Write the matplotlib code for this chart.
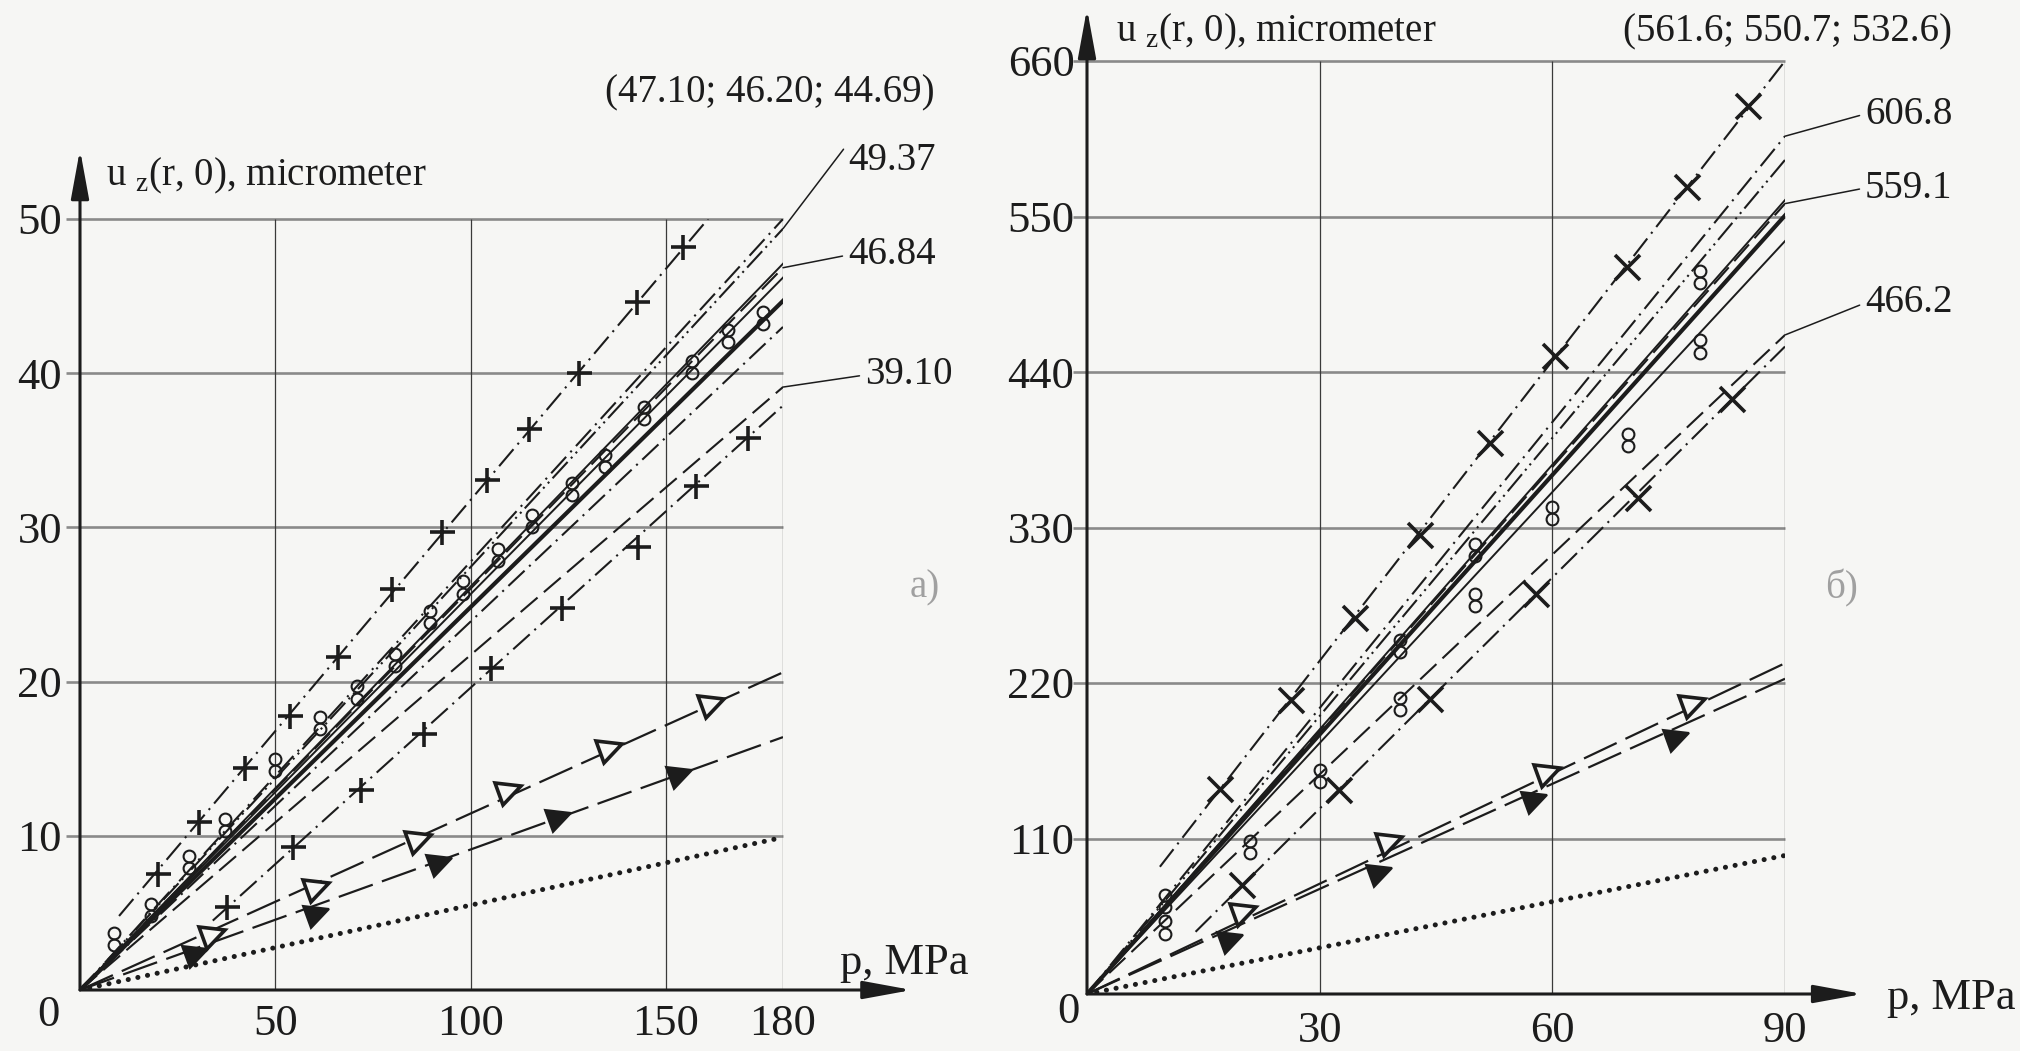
import matplotlib
matplotlib.use("Agg")
import matplotlib.pyplot as plt
from matplotlib.markers import MarkerStyle

plt.rcParams['font.family'] = 'serif'
plt.rcParams['font.serif'] = ['Liberation Serif', 'DejaVu Serif']
plt.rcParams['mathtext.fontset'] = 'custom'
plt.rcParams['mathtext.rm'] = 'Liberation Serif'
plt.rcParams['lines.scale_dashes'] = False

W, H = 2020, 1051
BG = '#f6f6f4'
INK = '#1c1c1c'

# ---------------- panel a) ----------------
a_xticks = [50, 100, 150, 180]
a_yticks = [10, 20, 30, 40, 50]
a_xmax, a_ymax = 180, 50
# straight lines from the origin, value reached at p = 180 MPa
a_line_ends = [50.0, 49.37, 47.10, 46.84, 46.20, 44.69, 43.0, 39.10]
a_line_styles = ['dashdot', 'dashdotdot', 'solid', 'dashed', 'solid', 'thick', 'dashdot', 'dashed']
# "+" series (upper and lower)
a_up_x = [19.9, 30.4, 42.3, 53.8, 66, 80, 92.8, 104.3, 115, 127.7, 142.5, 154.5]
a_up_y = [7.5, 10.9, 14.4, 17.8, 21.6, 26.0, 29.7, 33.1, 36.4, 40.0, 44.6, 48.2]
a_up_line_x = [10, 160.8]
a_up_line_y = [4.8, 50.0]
a_lo_x = [37.7, 54.6, 72, 88, 105.3, 123.4, 143, 157.6, 171]
a_lo_y = [5.4, 9.3, 13.0, 16.6, 20.9, 24.8, 28.7, 32.7, 35.8]
a_lo_line_x = [34, 180]
a_lo_line_y = [4.5, 37.9]
# paired circles (experiment)
a_circ_x = [8.7, 18.1, 27.8, 37.2, 50, 61.5, 71, 80.6, 89.5, 98, 106.9, 115.8, 126, 134.5, 144.3, 156.6, 166, 175]
a_circ_y = [3.3, 5.2, 8.3, 10.7, 14.6, 17.3, 19.3, 21.4, 24.2, 26.1, 28.2, 30.4, 32.5, 34.3, 37.4, 40.4, 42.4, 43.6]
# triangles
a_otri_x = [34.2, 61, 87, 110, 136, 162]
a_otri_y = [3.6, 6.7, 9.8, 13.0, 15.7, 18.6]
a_otri_end = 20.6
a_ftri_x = [30, 61, 92.4, 123, 154]
a_ftri_y = [2.4, 5.0, 8.3, 11.25, 14.0]
a_ftri_end = 16.4
a_dot_end = 9.9
a_ann_vals = [49.37, 46.84, 39.10]
a_ann_text = ['49.37', '46.84', '39.10']
a_top_text = '(47.10; 46.20; 44.69)'

# ---------------- panel б) ----------------
b_xticks = [30, 60, 90]
b_yticks = [110, 220, 330, 440, 550, 660]
b_xmax, b_ymax = 90, 660
b_line_ends = [606.8, 590.0, 561.6, 559.1, 550.7, 532.6, 466.2]
b_line_styles = ['dashdot', 'dashdotdot', 'solid', 'dashed', 'thick', 'solid', 'dashed']
b_up_x = [17.1, 26.3, 34.5, 43, 52, 60.3, 69.6, 77.4, 85.2]
b_up_y = [145, 208, 266, 325, 390, 451, 514, 571, 628]
b_up_line_x = [9.4, 90]
b_up_line_y = [90, 660]
b_lo_x = [20, 32.5, 44.2, 57.9, 71, 83.2]
b_lo_y = [77, 144, 209, 283, 351, 421]
b_lo_line_x = [14, 90]
b_lo_line_y = [44, 458]
b_circ_x = [10, 10, 21, 30, 40.3, 40.3, 50, 50, 60, 69.7, 79, 79]
b_circ_y = [47, 66, 104, 154, 246, 205, 314, 279, 340, 392, 507, 458]
b_otri_x = [20.4, 39.2, 59.6, 78.3]
b_otri_y = [59, 108, 157, 206]
b_otri_end = 234
b_ftri_x = [18.75, 37.9, 57.9, 76.25]
b_ftri_y = [39, 86, 138, 182]
b_ftri_end = 223
b_dot_end = 98
b_ann_vals = [606.8, 559.1, 466.2]
b_ann_text = ['606.8', '559.1', '466.2']
b_top_text = '(561.6; 550.7; 532.6)'

STYLES = {
    'solid': dict(ls='-', lw=1.4),
    'thick': dict(ls='-', lw=3.0),
    'dashed': dict(ls=(0, (16, 6)), lw=1.5),
    'dashdot': dict(ls=(0, (16, 4.5, 1.5, 4.5)), lw=1.5),
    'dashdotdot': dict(ls=(0, (16, 3.5, 1.5, 3.5, 1.5, 3.5)), lw=1.5),
}

TRI = MarkerStyle('>').rotated(deg=22)


def draw_panel(ax, xmax, ymax, xticks, yticks, ends, styles, up, lo, circ, circ_off,
               otri, ftri, dot_end, y_arrow, x_arrow):
    ax.set_xlim(0, xmax)
    ax.set_ylim(0, ymax)
    ax.set_facecolor('none')
    for s in ax.spines.values():
        s.set_visible(False)

    # grid: grey horizontal rules, thin dark verticals
    ax.hlines(yticks, -0.02 * xmax, xmax, color='#8a8a8a', lw=1.9, zorder=1, clip_on=False)
    ax.vlines(xticks, 0, ymax, color='#3a3a3a', lw=0.9, zorder=1)

    # axes with arrows
    arr = dict(arrowstyle='-|>,head_length=1.2,head_width=0.22', lw=2.2, color=INK,
               shrinkA=0, shrinkB=0, mutation_scale=25)
    ax.annotate('', xy=(x_arrow, 0), xytext=(0, 0), arrowprops=arr, annotation_clip=False)
    ax.annotate('', xy=(0, y_arrow), xytext=(0, 0), arrowprops=arr, annotation_clip=False)

    for e, st in zip(ends, styles):
        ax.plot([0, xmax], [0, e], color=INK, zorder=3, **STYLES[st])

    # "+"/"x" series
    ax.plot(up[2], up[3], color=INK, zorder=3, **STYLES['dashdot'])
    ax.plot(lo[2], lo[3], color=INK, zorder=3, **STYLES['dashdot'])
    ax.plot(up[0], up[1], ls='none', marker=up[4], ms=18, mew=2.6, color=INK, zorder=4)
    ax.plot(lo[0], lo[1], ls='none', marker=lo[4], ms=18, mew=2.6, color=INK, zorder=4)

    # paired circles
    cx, cy = circ
    ax.plot(cx, [v + circ_off for v in cy], ls='none', marker='o', ms=8.5, mfc='none',
            mec=INK, mew=1.5, zorder=4)
    ax.plot(cx, [v - circ_off for v in cy], ls='none', marker='o', ms=8.5, mfc='none',
            mec=INK, mew=1.5, zorder=4)

    # triangle series
    tri_ls = dict(ls=(0, (26, 7)), lw=1.6)
    ax.plot([0, xmax], [0, otri[2]], color=INK, zorder=3, **tri_ls)
    ax.plot([0, xmax], [0, ftri[2]], color=INK, zorder=3, **tri_ls)
    ax.plot(otri[0], otri[1], ls='none', marker=TRI, ms=17, mfc=BG, mec=INK,
            mew=2.6, zorder=5)
    ax.plot(ftri[0], ftri[1], ls='none', marker=TRI, ms=17, mfc=INK, mec=INK,
            mew=1.5, zorder=5)

    # dotted reference line
    ax.plot([0, xmax], [0, dot_end], color=INK, lw=3.6, ls=(0, (0.1, 7)),
            dash_capstyle='round', zorder=3)


fig = plt.figure(figsize=(W / 100, H / 100), dpi=100, facecolor=BG)
axA = fig.add_axes([80 / W, (H - 990) / H, 703 / W, 771 / H])
axB = fig.add_axes([1087 / W, (H - 994) / H, 698 / W, 933 / H])

draw_panel(axA, a_xmax, a_ymax, a_xticks, a_yticks, a_line_ends, a_line_styles,
           (a_up_x, a_up_y, a_up_line_x, a_up_line_y, '+'),
           (a_lo_x, a_lo_y, a_lo_line_x, a_lo_line_y, '+'),
           (a_circ_x, a_circ_y), 0.4,
           (a_otri_x, a_otri_y, a_otri_end), (a_ftri_x, a_ftri_y, a_ftri_end),
           a_dot_end, 54.5, 213)
draw_panel(axB, b_xmax, b_ymax, b_xticks, b_yticks, b_line_ends, b_line_styles,
           (b_up_x, b_up_y, b_up_line_x, b_up_line_y, 'x'),
           (b_lo_x, b_lo_y, b_lo_line_x, b_lo_line_y, 'x'),
           (b_circ_x, b_circ_y), 4.3,
           (b_otri_x, b_otri_y, b_otri_end), (b_ftri_x, b_ftri_y, b_ftri_end),
           b_dot_end, 697, 100)

# tick labels
for ax, xt, yt, xpad, ypad in [(axA, a_xticks, a_yticks, 10, 13), (axB, b_xticks, b_yticks, 12, 9)]:
    ax.set_xticks(xt)
    ax.set_yticks(yt)
    ax.set_xticklabels([str(v) for v in xt])
    ax.set_yticklabels([str(v) for v in yt])
    ax.tick_params(axis='x', length=0, pad=xpad, labelsize=32, labelcolor=INK)
    ax.tick_params(axis='y', length=0, pad=ypad, labelsize=32, labelcolor=INK)

fs_ann = 28
fig.text(48 / W, 1 - 1015 / H, '0', fontsize=32, ha='center', va='center', color=INK)
fig.text(1068 / W, 1 - 1012 / H, '0', fontsize=32, ha='center', va='center', color=INK)

ylab = r'u ${}_{\mathrm{z}}$(r, 0), micrometer'
fig.text(106 / W, 1 - 176 / H, ylab, fontsize=28, ha='left', va='center', color=INK)
fig.text(1116 / W, 1 - 32 / H, ylab, fontsize=28, ha='left', va='center', color=INK)
fig.text(840 / W, 1 - 963 / H, 'p, MPa', fontsize=32, ha='left', va='center', color=INK)
fig.text(1887 / W, 1 - 998 / H, 'p, MPa', fontsize=32, ha='left', va='center', color=INK)
fig.text(605 / W, 1 - 93 / H, a_top_text, fontsize=fs_ann, ha='left', va='center', color=INK)
fig.text(1623 / W, 1 - 32 / H, b_top_text, fontsize=fs_ann, ha='left', va='center', color=INK)
fig.text(925 / W, 1 - 588 / H, 'a)', fontsize=28, ha='center', va='center', color='#a0a0a0')
fig.text(1842 / W, 1 - 588 / H, 'б)', fontsize=28, ha='center', va='center', color='#a0a0a0')

# labelled end values with leader lines
a_ann_xy = [(848, 160), (848, 255), (865, 375)]
a_rel = [(0, 0.95), (0, 0.5), (0, 0.5)]
for v, t, (px, py), rp in zip(a_ann_vals, a_ann_text, a_ann_xy, a_rel):
    axA.annotate(t, xy=(a_xmax, v), xytext=(px, H - py), textcoords='figure pixels',
                 fontsize=fs_ann, ha='left', va='center', color=INK, annotation_clip=False,
                 arrowprops=dict(arrowstyle='-', lw=1.1, color=INK, relpos=rp,
                                 shrinkA=2, shrinkB=0))
b_ann_xy = [(1865, 114), (1865, 188), (1865, 303)]
for v, t, (px, py) in zip(b_ann_vals, b_ann_text, b_ann_xy):
    axB.annotate(t, xy=(b_xmax, v), xytext=(px, H - py), textcoords='figure pixels',
                 fontsize=fs_ann, ha='left', va='center', color=INK, annotation_clip=False,
                 arrowprops=dict(arrowstyle='-', lw=1.1, color=INK, relpos=(0, 0.5),
                                 shrinkA=2, shrinkB=0))

fig.savefig('out.png', dpi=100, facecolor=BG)
